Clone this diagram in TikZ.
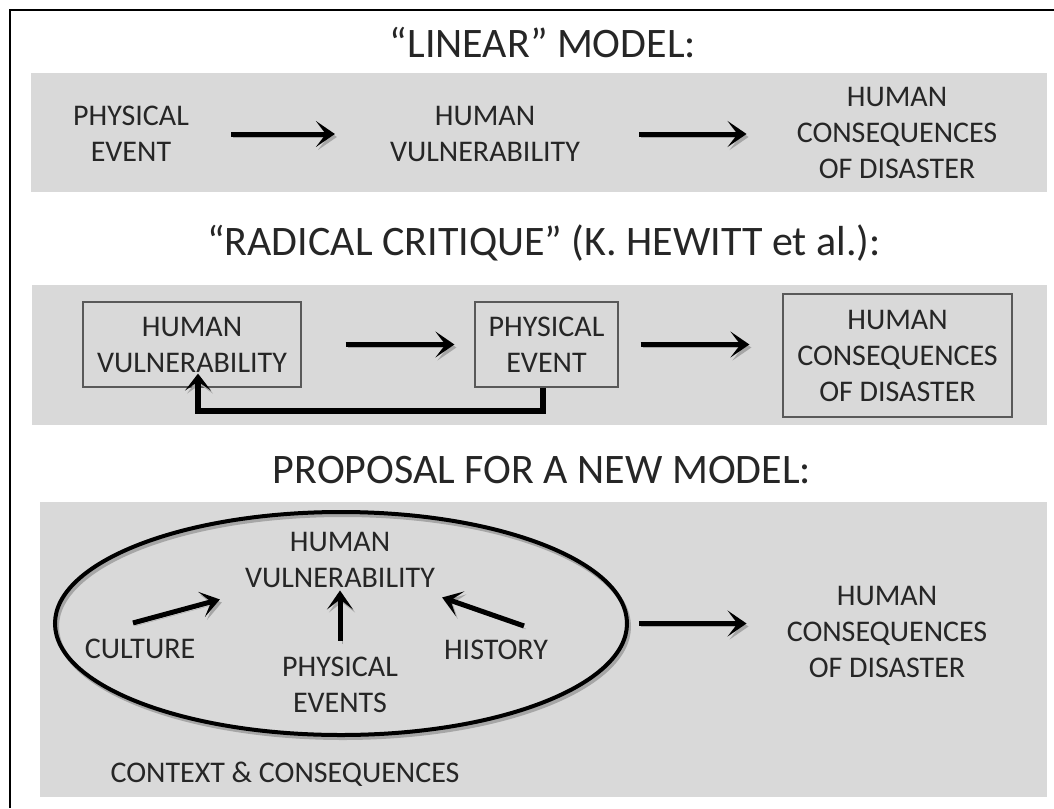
\documentclass[tikz,border=0pt]{standalone}
\usepackage{fontspec}
\setmainfont{Carlito}
\usetikzlibrary{arrows.meta,shapes.geometric}
\tikzset{
  panel/.style={fill=black!15},
  shade/.style={preaction={draw=black!35, transform canvas={shift={(2pt,-3pt)}}}},
  txt/.style={font=\fontsize{30}{36}\selectfont, align=center, inner sep=0pt, text=black!85},
  ttl/.style={font=\fontsize{42}{50}\selectfont, anchor=base, inner sep=0pt, text=black!85},
  boxed/.style={txt, draw=black!65, line width=1.2pt},
  arr/.style={line width=5pt, -{Stealth[length=19pt,width=26pt,inset=10pt]}, shade},
  fback/.style={line width=6pt, line join=miter, -{Stealth[length=17pt,width=26pt,inset=9pt]}, shade},
}
\begin{document}
\begin{tikzpicture}[x=1pt,y=-1pt]
\useasboundingbox (0,0) rectangle (1054,808);
\draw[line width=2pt] (10,808) -- (10,10) -- (1054,10);
\fill[panel] (31,73) rectangle (1047,192);
\fill[panel] (32,285) rectangle (1047,425);
\fill[panel] (40,502) rectangle (1047,797);

% linear model
\node[ttl] (T1) at (543,57) {``LINEAR'' MODEL:};
\node[txt] (A) at (131,134) {PHYSICAL\\EVENT};
\node[txt] (B) at (485,134) {HUMAN\\VULNERABILITY};
\node[txt] (C) at (897,133) {HUMAN\\CONSEQUENCES\\OF DISASTER};

\draw[arr, shorten <=42pt, shorten >=55pt] (A) -- (B);
\draw[arr, shorten <=59pt, shorten >=50pt] (B) -- (B -| C.west);

% radical critique
\node[ttl] (T2) at (544,255) {``RADICAL CRITIQUE'' (K. HEWITT et al.):};
\node[boxed, minimum width=218pt, minimum height=85pt] (D) at (192,344.5) {HUMAN\\VULNERABILITY};
\node[boxed, minimum width=143pt, minimum height=85pt] (E) at (546.5,344.5) {PHYSICAL\\EVENT};
\node[boxed, minimum width=229pt, minimum height=123pt] (F) at (897.5,355.5) {HUMAN\\CONSEQUENCES\\OF DISASTER};
\coordinate (N) at ([shift={(6,-14)}]D.south);

\draw[arr, shorten <=44pt, shorten >=20pt] (D) -- (E);
\draw[arr, shorten <=22pt, shorten >=33pt] (E.east) -- (E.east -| F.west);
\draw[fback] ([shift={(-4,0)}]E.south) -- ++(0,23) -| (N);

% new model
\node[ttl] (T3) at (542,483) {PROPOSAL FOR A NEW MODEL:};
\node[draw, ellipse, line width=4pt, minimum width=572pt, minimum height=223pt, inner sep=0pt, shade] (G) at (341,623.5) {};
\node[txt] (H) at (340,559.5) {HUMAN\\VULNERABILITY};
\node[txt] (I) at (140,649) {CULTURE};
\node[txt] (J) at (340,685) {PHYSICAL\\EVENTS};
\node[txt] (K) at (496,650) {HISTORY};
\node[txt] (L) at (887,632) {HUMAN\\CONSEQUENCES\\OF DISASTER};
\node[txt, anchor=base] (M) at (285,782) {CONTEXT \& CONSEQUENCES};

\draw[arr] ([shift={(-7,-16)}]I.north) -- ([shift={(-25,12)}]H.south west);
\draw[arr] ([shift={(0,-16)}]J.north) -- ([shift={(0,3)}]H.south);
\draw[arr] ([shift={(28,-14)}]K.north) -- ([shift={(7,10)}]H.south east);
\draw[arr, shorten <=10pt, shorten >=40pt] (G.east) -- (G.east -| L.west);
\end{tikzpicture}
\end{document}
